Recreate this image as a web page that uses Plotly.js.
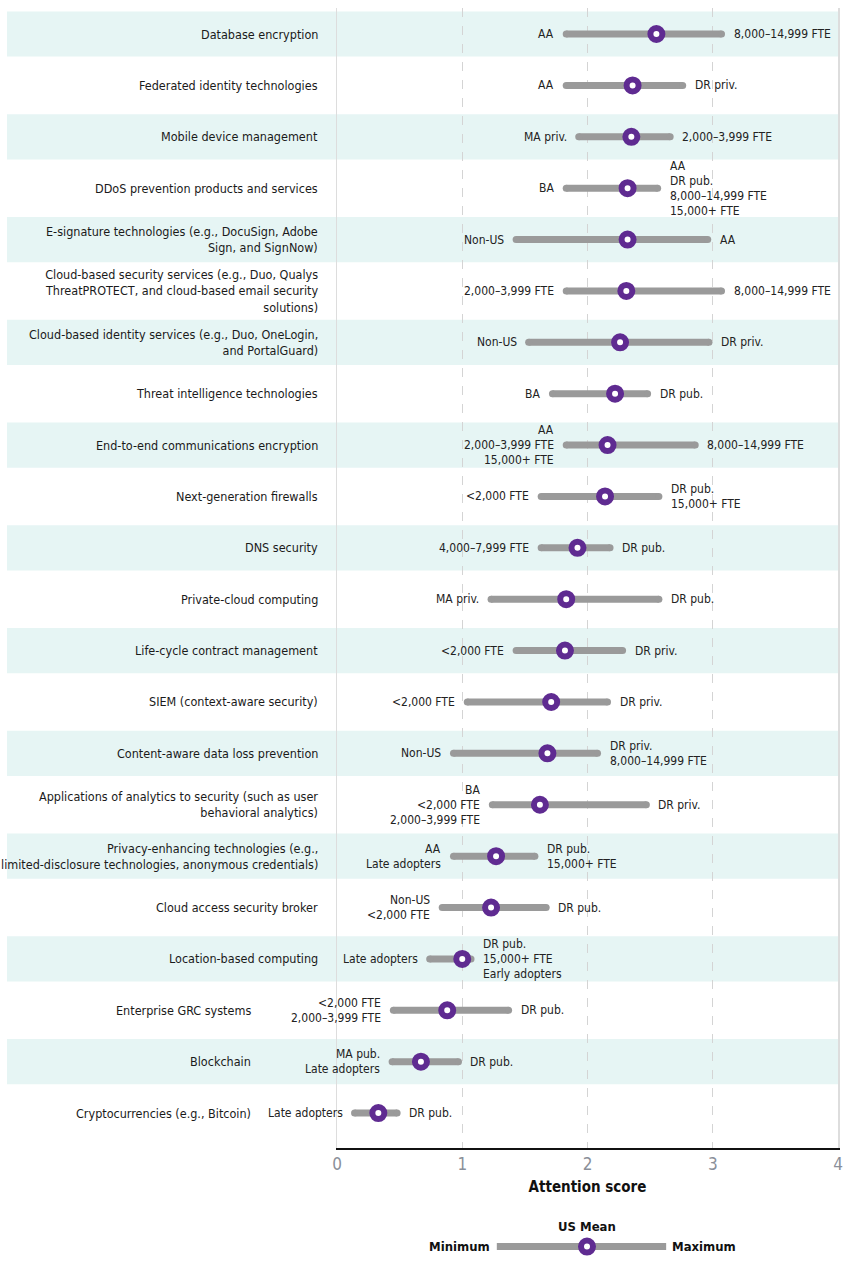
<!DOCTYPE html>
<html>
<head>
<meta charset="utf-8">
<script src="https://cdn.plot.ly/plotly-3.0.1.min.js"></script>
<style>
html,body{margin:0;padding:0;background:#fff;}
#chart{width:850px;height:1263px;}
</style>
</head>
<body>
<div id="chart"></div>
<script>
const categories = [
  "Database encryption",
  "Federated identity technologies",
  "Mobile device management",
  "DDoS prevention products and services",
  "E-signature technologies (e.g., DocuSign, Adobe<br>Sign, and SignNow)",
  "Cloud-based security services (e.g., Duo, Qualys<br>ThreatPROTECT, and cloud-based email security<br>solutions)",
  "Cloud-based identity services (e.g., Duo, OneLogin,<br>and PortalGuard)",
  "Threat intelligence technologies",
  "End-to-end communications encryption",
  "Next-generation firewalls",
  "DNS security",
  "Private-cloud computing",
  "Life-cycle contract management",
  "SIEM (context-aware security)",
  "Content-aware data loss prevention",
  "Applications of analytics to security (such as user<br>behavioral analytics)",
  "Privacy-enhancing technologies (e.g.,<br>limited-disclosure technologies, anonymous credentials)",
  "Cloud access security broker",
  "Location-based computing",
  "Enterprise GRC systems",
  "Blockchain",
  "Cryptocurrencies (e.g., Bitcoin)"
];

const minVals  = [1.83,1.83,1.93,1.83,1.43,1.83,1.53,1.72,1.83,1.63,1.63,1.23,1.43,1.04,0.93,1.24,0.93,0.84,0.74,0.45,0.44,0.14];
const meanVals = [2.55,2.36,2.35,2.32,2.32,2.31,2.26,2.22,2.16,2.14,1.92,1.83,1.82,1.71,1.68,1.62,1.27,1.23,1.00,0.88,0.67,0.33];
const maxVals  = [3.07,2.76,2.66,2.56,2.96,3.07,2.97,2.48,2.86,2.57,2.18,2.57,2.28,2.16,2.08,2.47,1.58,1.67,1.07,1.37,0.97,0.48];

const minLabels = [
  ["AA"], ["AA"], ["MA priv."], ["BA"], ["Non-US"], ["2,000–3,999 FTE"], ["Non-US"], ["BA"],
  ["AA","2,000–3,999 FTE","15,000+ FTE"], ["<2,000 FTE"], ["4,000–7,999 FTE"], ["MA priv."],
  ["<2,000 FTE"], ["<2,000 FTE"], ["Non-US"], ["BA","<2,000 FTE","2,000–3,999 FTE"],
  ["AA","Late adopters"], ["Non-US","<2,000 FTE"], ["Late adopters"], ["<2,000 FTE","2,000–3,999 FTE"],
  ["MA pub.","Late adopters"], ["Late adopters"]
];
const maxLabels = [
  ["8,000–14,999 FTE"], ["DR priv."], ["2,000–3,999 FTE"], ["AA","DR pub.","8,000–14,999 FTE","15,000+ FTE"],
  ["AA"], ["8,000–14,999 FTE"], ["DR priv."], ["DR pub."], ["8,000–14,999 FTE"], ["DR pub.","15,000+ FTE"],
  ["DR pub."], ["DR pub."], ["DR priv."], ["DR priv."], ["DR priv.","8,000–14,999 FTE"], ["DR priv."],
  ["DR pub.","15,000+ FTE"], ["DR pub."], ["DR pub.","15,000+ FTE","Early adopters"], ["DR pub."],
  ["DR pub."], ["DR pub."]
];

const tickVals = [0,1,2,3,4];
const tickText = ["0","1","2","3","4"];
const xTitle = "Attention score";
const legendMean = "US Mean", legendMin = "Minimum", legendMax = "Maximum";

const FONT = "'DejaVu Sans Condensed', Roboto, sans-serif";
const PURPLE = "#5f2b91";
const GRAY = "#9a9a9a";
const BAND = "#e6f5f4";

const idx = categories.map((_, i) => i);

// range lines
const lx = [], ly = [];
idx.forEach(i => { lx.push(minVals[i], maxVals[i], null); ly.push(i, i, null); });

const traces = [
  {x: lx, y: ly, mode: "lines", line: {color: GRAY, width: 7}, hoverinfo: "skip", showlegend: false},
  {x: minVals.concat(maxVals), y: idx.concat(idx), mode: "markers",
   marker: {color: GRAY, size: 7, line: {width: 0}}, hoverinfo: "skip", showlegend: false},
  {x: meanVals, y: idx, mode: "markers",
   marker: {symbol: "circle", size: 12, color: "#ffffff", line: {color: PURPLE, width: 6}},
   showlegend: false}
];

const shapes = [];
const annotations = [];

idx.forEach(i => {
  if (i % 2 === 0) {
    shapes.push({type: "rect", layer: "below", xref: "paper", yref: "y",
      x0: -0.6587, x1: 1, y0: i - 0.44, y1: i + 0.44, fillcolor: BAND, line: {width: 0}});
  }
  // category label is pushed left when the minimum label spills past the axis
  const labX = minVals[i] < 0.5 ? -0.1677 : -0.034;
  annotations.push({xref: "paper", yref: "y", x: labX, y: i, xanchor: "right", yanchor: "middle",
    align: "right", text: categories[i], showarrow: false,
    font: {family: FONT, size: 12.5, color: "#1a1a1a"}});
  const nL = minLabels[i].length;
  minLabels[i].forEach((t, k) => {
    annotations.push({xref: "x", yref: "y", x: minVals[i], y: i, xanchor: "right", yanchor: "middle",
      xshift: -10, yshift: ((nL - 1) / 2 - k) * 15, text: t, showarrow: false,
      font: {family: FONT, size: 12, color: "#222"}});
  });
  const nR = maxLabels[i].length;
  maxLabels[i].forEach((t, k) => {
    annotations.push({xref: "x", yref: "y", x: maxVals[i], y: i, xanchor: "left", yanchor: "middle",
      xshift: 10, yshift: ((nR - 1) / 2 - k) * 15, text: t, showarrow: false,
      font: {family: FONT, size: 12, color: "#222"}});
  });
});

// legend key
shapes.push({type: "line", xref: "paper", yref: "paper", x0: 0.319, x1: 0.657, y0: -0.0865, y1: -0.0865,
  line: {color: GRAY, width: 7}});
shapes.push({type: "circle", xref: "paper", yref: "paper", xsizemode: "pixel", ysizemode: "pixel",
  xanchor: 0.499, yanchor: -0.0865, x0: -6, x1: 6, y0: -6, y1: 6,
  fillcolor: "#ffffff", line: {color: PURPLE, width: 6}});
annotations.push({xref: "paper", yref: "paper", x: 0.499, y: -0.0685, xanchor: "center", yanchor: "middle",
  text: "<b>" + legendMean + "</b>", showarrow: false, font: {family: FONT, size: 13, color: "#111"}});
annotations.push({xref: "paper", yref: "paper", x: 0.309, y: -0.0865, xanchor: "right", yanchor: "middle",
  text: "<b>" + legendMin + "</b>", showarrow: false, font: {family: FONT, size: 13, color: "#111"}});
annotations.push({xref: "paper", yref: "paper", x: 0.665, y: -0.0865, xanchor: "left", yanchor: "middle",
  text: "<b>" + legendMax + "</b>", showarrow: false, font: {family: FONT, size: 13, color: "#111"}});

const layout = {
  width: 850, height: 1263,
  margin: {l: 337, r: 12, t: 8, b: 115},
  paper_bgcolor: "#ffffff", plot_bgcolor: "rgba(0,0,0,0)",
  xaxis: {
    range: [0, 4], tickvals: tickVals, ticktext: tickText, ticks: "",
    showgrid: true, gridcolor: "#d4d4d4", griddash: "dash", gridwidth: 1,
    zeroline: false, showline: true, linecolor: "#111", linewidth: 2,
    tickfont: {family: FONT, size: 17, color: "#8a8f99"},
    title: {text: "<b>" + xTitle + "</b>", font: {family: FONT, size: 15, color: "#111"}, standoff: 8},
    fixedrange: true
  },
  yaxis: {
    range: [21.68, -0.506], showticklabels: false, ticks: "", showgrid: false, zeroline: false,
    showline: true, mirror: true, linecolor: "#dddddd", linewidth: 1.5, fixedrange: true
  },
  shapes: shapes,
  annotations: annotations,
  showlegend: false
};

Plotly.newPlot("chart", traces, layout, {displayModeBar: false, staticPlot: true});
</script>
</body>
</html>
